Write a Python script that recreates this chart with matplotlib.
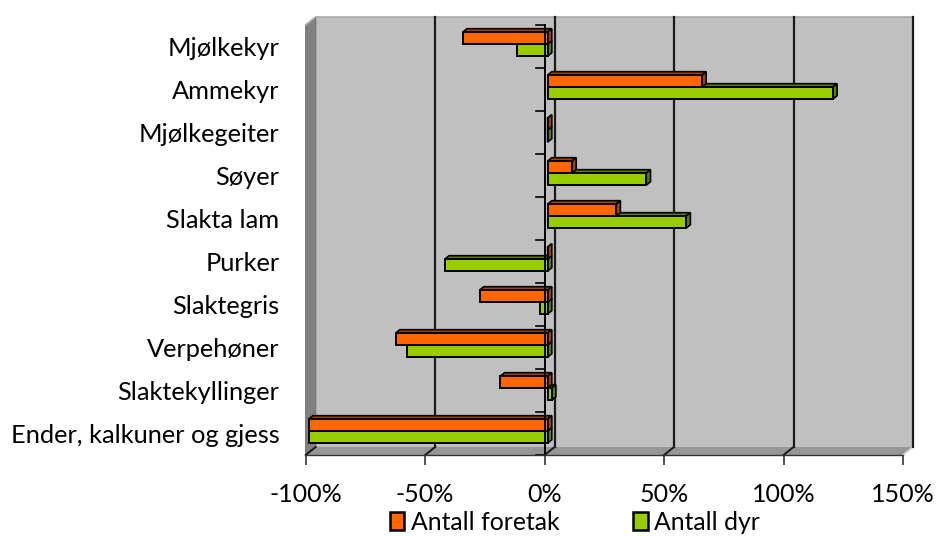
import matplotlib
matplotlib.use("Agg")
import matplotlib.pyplot as plt
from matplotlib.patches import Polygon, Rectangle

plt.rcParams['font.family'] = ['Lato', 'DejaVu Sans']

categories = ["Mjølkekyr", "Ammekyr", "Mjølkegeiter", "Søyer", "Slakta lam",
              "Purker", "Slaktegris", "Verpehøner", "Slaktekyllinger",
              "Ender, kalkuner og gjess"]
antall_foretak = [-35.5, 64.6, 0.0, 10.2, 28.7, 0.0, -28.5, -63.6, -19.8, -100.0]
antall_dyr = [-12.8, 119.4, 0.0, 41.3, 58.0, -43.0, -3.3, -58.9, 1.7, -100.0]
xticks = [-100, -50, 0, 50, 100, 150]
xticklabels = ["-100%", "-50%", "0%", "50%", "100%", "150%"]
series_names = ["Antall foretak", "Antall dyr"]

W, H, DPI = 936, 536, 100
fig = plt.figure(figsize=(W / DPI, H / DPI), dpi=DPI)
# front plane in pixels
fx0, fx1, fy_top, fy_bot = 305.7, 903.0, 25.0, 455.0
ax = fig.add_axes([fx0 / W, (H - fy_bot) / H, (fx1 - fx0) / W, (fy_bot - fy_top) / H])
n = len(categories)
ax.set_xlim(-100, 150)
ax.set_ylim(0, n)
for s in ax.spines.values():
    s.set_visible(False)

sx = (fx1 - fx0) / 250.0   # px per percent
sy = (fy_bot - fy_top) / n  # px per category


def dx(px):
    return px / sx


def dy(px):
    return px / sy


# wall depth
DX, DY = dx(10), dy(8)
xmin, xmax = -100, 150
wall = '#c0c0c0'
floor = '#969696'
side = '#808080'

# back wall
ax.add_patch(Rectangle((xmin + DX, DY), xmax - xmin, n, facecolor=wall,
                       edgecolor='none', clip_on=False, zorder=0))
# left side wall
ax.add_patch(Polygon([(xmin, 0), (xmin + DX, DY), (xmin + DX, n + DY), (xmin, n)],
                     closed=True, facecolor=side, edgecolor='#6e6e6e', lw=0.8,
                     clip_on=False, zorder=0.5))
# floor
ax.add_patch(Polygon([(xmin, 0), (xmax, 0), (xmax + DX, DY), (xmin + DX, DY)],
                     closed=True, facecolor=floor, edgecolor='none',
                     clip_on=False, zorder=0.5))
# back wall top border
ax.plot([xmin, xmin + DX, xmax + DX], [n, n + DY, n + DY], color='#a8a8a8',
        lw=1.2, clip_on=False, zorder=0.6)
ax.plot([xmax, xmax + DX], [0, DY], color='#d8d8d8', lw=1.2, clip_on=False, zorder=0.6)

# gridlines on back wall and floor
for t in xticks[1:]:
    ax.plot([t + DX, t + DX], [DY, n + DY], color='#1a1a1a', lw=1.6,
            clip_on=False, zorder=0.8)
for t in xticks[:-1]:
    ax.plot([t, t + DX], [0, DY], color='#1a1a1a', lw=1.4,
            clip_on=False, zorder=0.8)

# bars
bar_h = dy(12)
bx, by = dx(3), dy(2.4)   # bar plane offset
ddx, ddy = dx(4.2), dy(3.4)  # bar depth
colors = [('#ff6600', '#a34500'), ('#99cc00', '#5f7f00')]


def draw_bar(y0, v, front, dark, z):
    x0, x1 = 0 + bx, v + bx
    yb, yt = y0 + by, y0 + by + bar_h
    lo, hi = min(x0, x1), max(x0, x1)
    ax.add_patch(Polygon([(lo, yt), (hi, yt), (hi + ddx, yt + ddy), (lo + ddx, yt + ddy)],
                         closed=True, facecolor=dark, edgecolor='black', lw=1.2,
                         zorder=z, clip_on=False))
    ax.add_patch(Polygon([(hi, yb), (hi + ddx, yb + ddy), (hi + ddx, yt + ddy), (hi, yt)],
                         closed=True, facecolor=dark, edgecolor='black', lw=1.2,
                         zorder=z, clip_on=False))
    ax.barh([yb], [hi - lo], left=[lo], height=bar_h, align='edge',
            color=front, edgecolor='black', lw=1.4, zorder=z + 0.1, clip_on=False)


for i in range(n):
    yc = n - i - 0.5
    draw_bar(yc - bar_h, antall_dyr[i], colors[1][0], colors[1][1], 2 + i * 0.01)
    draw_bar(yc, antall_foretak[i], colors[0][0], colors[0][1], 3 + i * 0.01)

# value zero axis with category ticks
ax.plot([0, 0], [0, n], color='black', lw=1.4, zorder=5, clip_on=False)
for k in range(n + 1):
    ax.plot([-dx(9), 0], [k, k], color='black', lw=1.2, zorder=5, clip_on=False)

# bottom axis
ax.plot([xmin, xmax], [0, 0], color='#333333', lw=1.0, zorder=5, clip_on=False)
ax.set_xticks(xticks)
ax.set_xticklabels(xticklabels, fontsize=18)
ax.tick_params(axis='x', length=7, width=1.2, color='#333333', pad=13, direction='out')
ax.set_yticks([n - i - 0.5 for i in range(n)])
ax.set_yticklabels(categories, fontsize=18.3)
ax.tick_params(axis='y', length=0, pad=19)

# legend
handles = [Rectangle((0, 0), 1, 1, facecolor=c[0], edgecolor='black', lw=1.8) for c in colors]
leg = fig.legend(handles, series_names, loc='center', bbox_to_anchor=(575 / W, 1 - 522 / H),
                 ncol=2, frameon=False, fontsize=17.8, handlelength=0.6, handleheight=0.75,
                 handletextpad=0.25, columnspacing=3.0, borderaxespad=0, borderpad=0)

fig.savefig('out.png', dpi=DPI)
